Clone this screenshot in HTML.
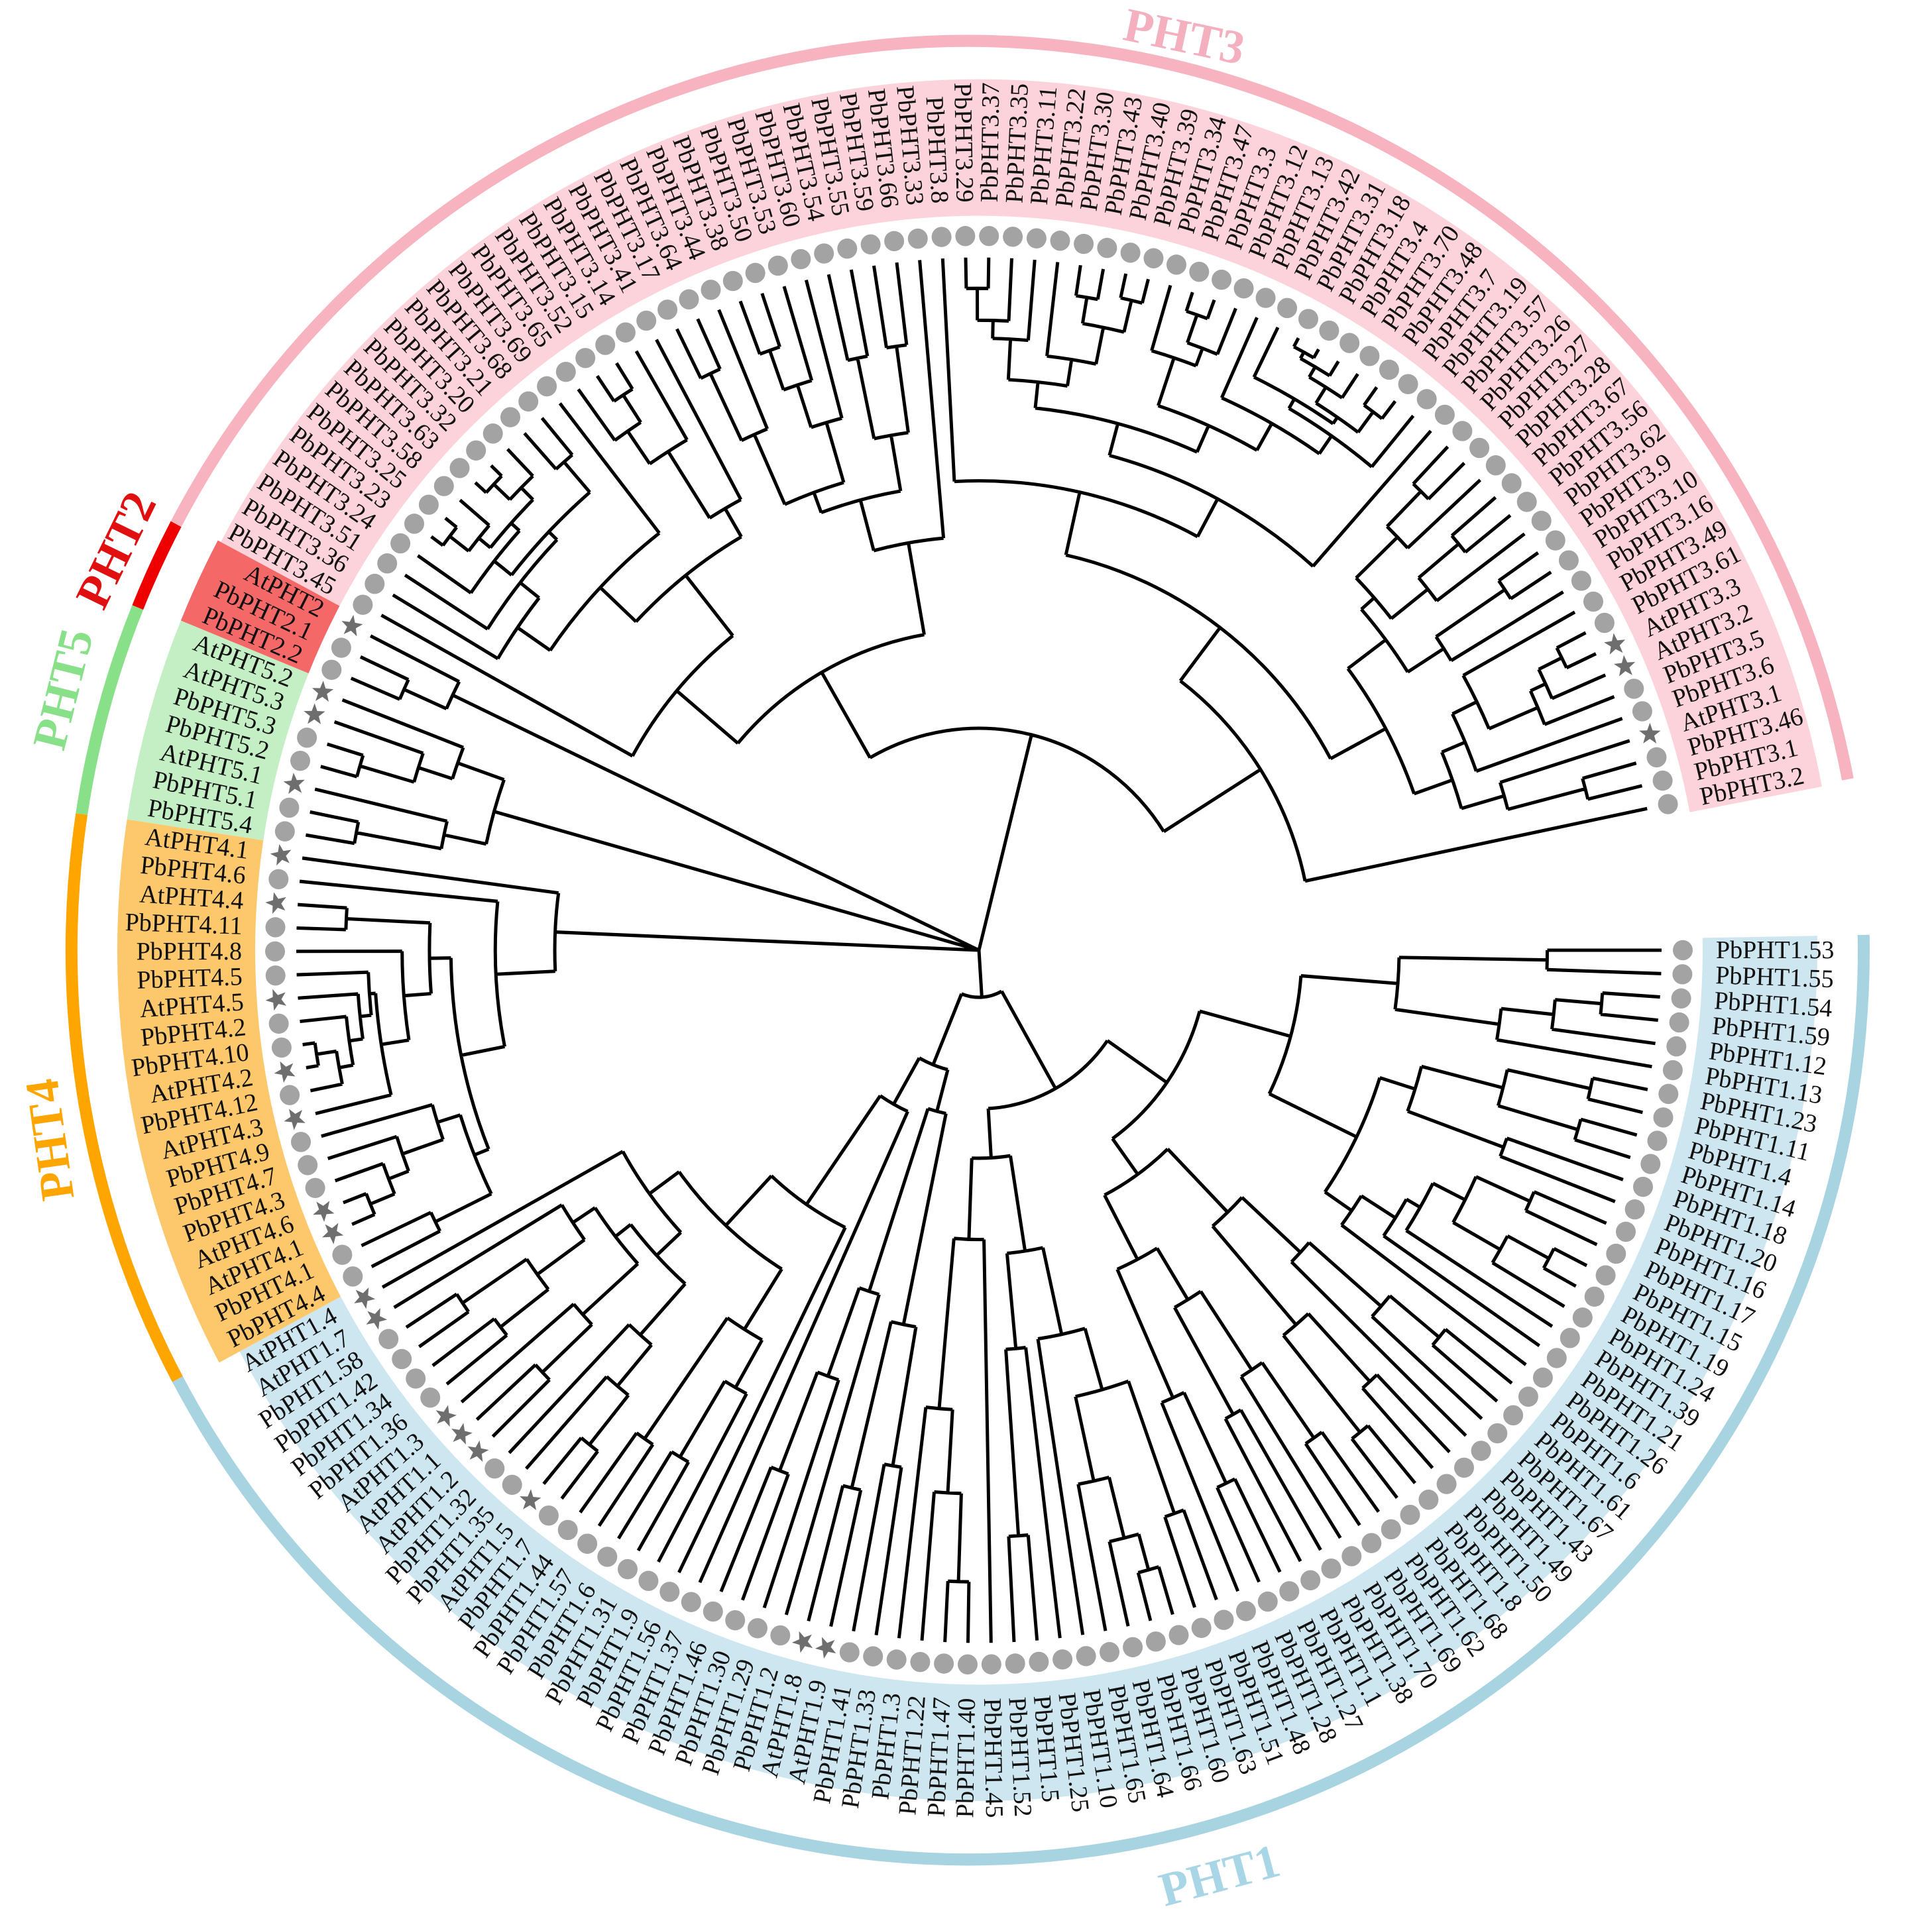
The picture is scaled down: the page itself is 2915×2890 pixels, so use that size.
<!DOCTYPE html>
<html><head><meta charset="utf-8"><style>
html,body{margin:0;padding:0;background:#fff;}
svg{display:block;}
#labels text{font-family:"Liberation Serif",serif;font-size:38px;fill:#111;dominant-baseline:central;}
.grp{font-family:"Liberation Serif",serif;font-weight:bold;font-size:72px;}
</style></head><body>
<svg id="s" width="2915" height="2890" viewBox="0 0 2915 2890" xmlns="http://www.w3.org/2000/svg">
<g id="arcs" transform="translate(1460,1434) scale(1,1.015)"></g>
<g id="main" transform="translate(1477,1434) scale(1,1.015)">
<g id="bands"></g>
<g id="tree" stroke="#000" stroke-width="5" fill="none"></g>
<g id="marks"></g>
<g id="labels">
<text>PbPHT1.53</text><text>PbPHT1.55</text><text>PbPHT1.54</text><text>PbPHT1.59</text><text>PbPHT1.12</text><text>PbPHT1.13</text><text>PbPHT1.23</text><text>PbPHT1.11</text><text>PbPHT1.4</text><text>PbPHT1.14</text><text>PbPHT1.18</text><text>PbPHT1.20</text><text>PbPHT1.16</text><text>PbPHT1.17</text><text>PbPHT1.15</text><text>PbPHT1.19</text><text>PbPHT1.24</text><text>PbPHT1.39</text><text>PbPHT1.21</text><text>PbPHT1.26</text><text>PbPHT1.6</text><text>PbPHT1.61</text><text>PbPHT1.67</text><text>PbPHT1.43</text><text>PbPHT1.49</text><text>PbPHT1.50</text><text>PbPHT1.8</text><text>PbPHT1.68</text><text>PbPHT1.62</text><text>PbPHT1.69</text><text>PbPHT1.70</text><text>PbPHT1.38</text><text>PbPHT1.1</text><text>PbPHT1.27</text><text>PbPHT1.28</text><text>PbPHT1.48</text><text>PbPHT1.51</text><text>PbPHT1.63</text><text>PbPHT1.60</text><text>PbPHT1.66</text><text>PbPHT1.64</text><text>PbPHT1.65</text><text>PbPHT1.10</text><text>PbPHT1.25</text><text>PbPHT1.5</text><text>PbPHT1.52</text><text>PbPHT1.45</text><text>PbPHT1.40</text><text>PbPHT1.47</text><text>PbPHT1.22</text><text>PbPHT1.3</text><text>PbPHT1.33</text><text>PbPHT1.41</text><text>AtPHT1.9</text><text>AtPHT1.8</text><text>PbPHT1.2</text><text>PbPHT1.29</text><text>PbPHT1.30</text><text>PbPHT1.46</text><text>PbPHT1.37</text><text>PbPHT1.56</text><text>PbPHT1.9</text><text>PbPHT1.31</text><text>PbPHT1.6</text><text>PbPHT1.57</text><text>PbPHT1.44</text><text>PbPHT1.7</text><text>AtPHT1.5</text><text>PbPHT1.35</text><text>PbPHT1.32</text><text>AtPHT1.2</text><text>AtPHT1.1</text><text>AtPHT1.3</text><text>PbPHT1.36</text><text>PbPHT1.34</text><text>PbPHT1.42</text><text>PbPHT1.58</text><text>AtPHT1.7</text><text>AtPHT1.4</text>
<text>PbPHT4.4</text><text>PbPHT4.1</text><text>AtPHT4.1</text><text>AtPHT4.6</text><text>PbPHT4.3</text><text>PbPHT4.7</text><text>PbPHT4.9</text><text>AtPHT4.3</text><text>PbPHT4.12</text><text>AtPHT4.2</text><text>PbPHT4.10</text><text>PbPHT4.2</text><text>AtPHT4.5</text><text>PbPHT4.5</text><text>PbPHT4.8</text><text>PbPHT4.11</text><text>AtPHT4.4</text><text>PbPHT4.6</text><text>AtPHT4.1</text>
<text>PbPHT5.4</text><text>PbPHT5.1</text><text>AtPHT5.1</text><text>PbPHT5.2</text><text>PbPHT5.3</text><text>AtPHT5.3</text><text>AtPHT5.2</text>
<text>PbPHT2.2</text><text>PbPHT2.1</text><text>AtPHT2</text>
<text>PbPHT3.45</text><text>PbPHT3.36</text><text>PbPHT3.51</text><text>PbPHT3.24</text><text>PbPHT3.23</text><text>PbPHT3.25</text><text>PbPHT3.58</text><text>PbPHT3.63</text><text>PbPHT3.32</text><text>PbPHT3.20</text><text>PbPHT3.21</text><text>PbPHT3.68</text><text>PbPHT3.69</text><text>PbPHT3.65</text><text>PbPHT3.52</text><text>PbPHT3.15</text><text>PbPHT3.14</text><text>PbPHT3.41</text><text>PbPHT3.17</text><text>PbPHT3.64</text><text>PbPHT3.44</text><text>PbPHT3.38</text><text>PbPHT3.50</text><text>PbPHT3.53</text><text>PbPHT3.60</text><text>PbPHT3.54</text><text>PbPHT3.55</text><text>PbPHT3.59</text><text>PbPHT3.66</text><text>PbPHT3.33</text><text>PbPHT3.8</text><text>PbPHT3.29</text><text>PbPHT3.37</text><text>PbPHT3.35</text><text>PbPHT3.11</text><text>PbPHT3.22</text><text>PbPHT3.30</text><text>PbPHT3.43</text><text>PbPHT3.40</text><text>PbPHT3.39</text><text>PbPHT3.34</text><text>PbPHT3.47</text><text>PbPHT3.3</text><text>PbPHT3.12</text><text>PbPHT3.13</text><text>PbPHT3.42</text><text>PbPHT3.31</text><text>PbPHT3.18</text><text>PbPHT3.4</text><text>PbPHT3.70</text><text>PbPHT3.48</text><text>PbPHT3.7</text><text>PbPHT3.19</text><text>PbPHT3.57</text><text>PbPHT3.26</text><text>PbPHT3.27</text><text>PbPHT3.28</text><text>PbPHT3.67</text><text>PbPHT3.56</text><text>PbPHT3.62</text><text>PbPHT3.9</text><text>PbPHT3.10</text><text>PbPHT3.16</text><text>PbPHT3.49</text><text>PbPHT3.61</text><text>AtPHT3.3</text><text>AtPHT3.2</text><text>PbPHT3.5</text><text>PbPHT3.6</text><text>AtPHT3.1</text><text>PbPHT3.46</text><text>PbPHT3.1</text><text>PbPHT3.2</text>
</g>
</g>
<text class="grp" fill="#f4b0bf" text-anchor="middle" dominant-baseline="central" transform="translate(1787,55) rotate(12)">PHT3</text>
<text class="grp" fill="#a8d6e6" text-anchor="middle" dominant-baseline="central" transform="translate(1840,2830) rotate(-15)">PHT1</text>
<text class="grp" fill="#e01010" text-anchor="middle" dominant-baseline="central" transform="translate(175,830) rotate(-64)">PHT2</text>
<text class="grp" fill="#88e088" text-anchor="middle" dominant-baseline="central" transform="translate(95,1040) rotate(-76)">PHT5</text>
<text class="grp" fill="#ffa500" text-anchor="middle" dominant-baseline="central" transform="translate(75,1720) rotate(-98)">PHT4</text>
</svg>
<script>
(function(){
var NS="http://www.w3.org/2000/svg";
var N=181, step=348.2/180;
function ang(i){return i*step;}
function P(r,a){var t=a*Math.PI/180;return [r*Math.cos(t),r*Math.sin(t)];}
function f(p){return p[0].toFixed(1)+","+p[1].toFixed(1);}
function el(tag,attrs,parent){var e=document.createElementNS(NS,tag);for(var k in attrs)e.setAttribute(k,attrs[k]);parent.appendChild(e);return e;}
var groups=[[0,78,"#cde6f0",1265,"#a8d4e2"],[79,97,"#fdc86c",1300,"#ffa500"],[98,104,"#c4efc4",1300,"#88e088"],[105,107,"#f56868",1300,"#ee0000"],[108,180,"#fcd3da",1295,"#f7b4c0"]];
var bands=document.getElementById("bands"), arcs=document.getElementById("arcs");
function sector(r1,r2,a1,a2){var L=(a2-a1>180)?1:0;
 return "M"+f(P(r1,a1))+"L"+f(P(r2,a1))+"A"+r2+","+r2+" 0 "+L+" 1 "+f(P(r2,a2))+"L"+f(P(r1,a2))+"A"+r1+","+r1+" 0 "+L+" 0 "+f(P(r1,a1))+"Z";}
groups.forEach(function(g){
 var a1=ang(g[0])-step/2, a2=ang(g[1])+step/2;
 el("path",{d:sector(1092,g[3],a1,a2),fill:g[2]},bands);
 var L=(a2-a1>180)?1:0, R=1352;
 el("path",{d:"M"+f(P(R,a1))+"A"+R+","+R+" 0 "+L+" 1 "+f(P(R,a2)),fill:"none",stroke:g[4],"stroke-width":18},arcs);
});
// labels
var ts=document.getElementById("labels").getElementsByTagName("text");
for(var i=0;i<ts.length;i++){
 var a=ang(i), t=ts[i];
 if(a>90&&a<270){t.setAttribute("transform","rotate("+(a+180).toFixed(2)+")");t.setAttribute("x",-1112);t.setAttribute("text-anchor","end");}
 else{t.setAttribute("transform","rotate("+a.toFixed(2)+")");t.setAttribute("x",1112);t.setAttribute("text-anchor","start");}
}
// markers
var marks=document.getElementById("marks");
for(var i=0;i<ts.length;i++){
 var a=ang(i), c=P(1062,a);
 if(ts[i].textContent.indexOf("At")===0){
  var pts=[];for(var k=0;k<10;k++){var rr=(k%2==0)?17:7;var th=(a+k*36)*Math.PI/180;pts.push((c[0]+rr*Math.cos(th)).toFixed(1)+","+(c[1]+rr*Math.sin(th)).toFixed(1));}
  el("polygon",{points:pts.join(" "),fill:"#6e6e6e"},marks);
 } else el("circle",{cx:c[0].toFixed(1),cy:c[1].toFixed(1),r:15,fill:"#a3a3a3"},marks);
}
// tree
var tree=document.getElementById("tree"), RT=1030, d="";
var seed=12345;function rnd(){seed=(seed*1103515245+12345)%2147483648;return seed/2147483648;}
function line(r1,r2,a){d+="M"+f(P(r1,a))+"L"+f(P(r2,a));}
function arc(r,a1,a2){if(a1>a2){var t=a1;a1=a2;a2=t;}var L=(a2-a1>180)?1:0;d+="M"+f(P(r,a1))+"A"+r.toFixed(1)+","+r.toFixed(1)+" 0 "+L+" 1 "+f(P(r,a2));}
function node(lo,hi,rp,fr){
 var a,rn;
 if(lo==hi){rn=RT;a=ang(lo);}
 else{
  var n=hi-lo+1;
  rn=(fr!=null)?fr:rp+(RT-rp)*Math.min(0.85,0.07+rnd()*0.22+(n<3?0.35:(n<5?0.15:0)));
  var k,u=rnd();
  if(n==2)k=lo;else if(u<0.3)k=lo;else if(u<0.55)k=hi-1;else k=lo+Math.floor(n*(0.25+0.5*rnd()));
  if(k>=hi)k=hi-1;if(k<lo)k=lo;
  var a1=node(lo,k,rn),a2=node(k+1,hi,rn);
  arc(rn,a1,a2);a=(a1+a2)/2;
 }
 line(rp,rn,a);return a;
}
node(108,180,0,330);
node(105,107,0,880);
node(98,104,0,760);
node(79,97,0,640);
node(0,78,0,70);
el("path",{d:d},tree);
})();
</script>
</body></html>
